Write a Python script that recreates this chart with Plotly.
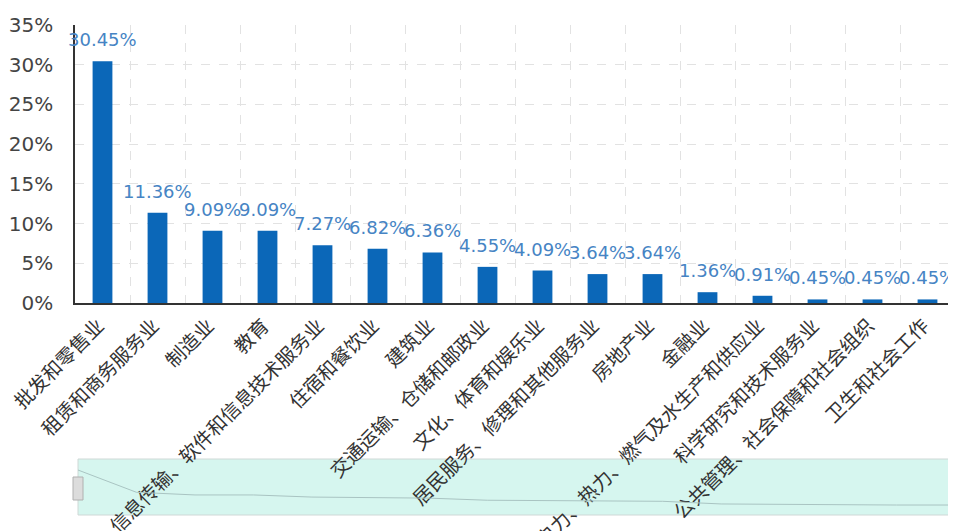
import plotly.graph_objects as go

categories = ["批发和零售业", "租赁和商务服务业", "制造业", "教育",
              "信息传输、软件和信息技术服务业", "住宿和餐饮业", "建筑业",
              "交通运输、仓储和邮政业", "文化、体育和娱乐业",
              "居民服务、修理和其他服务业", "房地产业", "金融业",
              "电力、热力、燃气及水生产和供应业", "科学研究和技术服务业",
              "公共管理、社会保障和社会组织", "卫生和社会工作"]
values = [30.45, 11.36, 9.09, 9.09, 7.27, 6.82, 6.36, 4.55, 4.09,
          3.64, 3.64, 1.36, 0.91, 0.45, 0.45, 0.45]
y_ticks = [0, 5, 10, 15, 20, 25, 30, 35]
y_tick_text = [f"{t}%" for t in y_ticks]

# page body has an 8px margin: work in page pixels, convert to figure pixels
OFF = 8
W, H = 956 - OFF, 531 - OFF
L, R = 75 - OFF, 955 - OFF
TOP, BOT = 25 - OFF, 303 - OFF
SL_L, SL_TOP, SL_BOT = 78 - OFF, 459 - OFF, 515 - OFF

CJK = "Noto Sans CJK SC, Microsoft YaHei, sans-serif"
NUM = "DejaVu Sans, Verdana, sans-serif"
LABEL_COLOR = "#4684c4"

fig = go.Figure()
fig.add_trace(go.Bar(
    x=categories, y=values,
    marker=dict(color="#0b67b8", line=dict(width=0)),
    width=0.36,
    xaxis="x", yaxis="y",
))

# data shadow in the slider
fig.add_trace(go.Scatter(
    x=list(range(len(values))), y=values,
    mode="lines", line=dict(color="#a9c4c2", width=1),
    xaxis="x2", yaxis="y2", hoverinfo="skip",
))

annotations = [
    dict(x=c, y=v, xref="x", yref="y", text=f"{v:.2f}%", showarrow=False,
         xanchor="center", yanchor="bottom", yshift=9,
         font=dict(size=18, color=LABEL_COLOR, family=NUM))
    for c, v in zip(categories, values)
]

def px(p):
    return p / W

def py(p):
    return 1 - p / H

fig.update_layout(
    width=W, height=H,
    margin=dict(l=0, r=0, t=0, b=0),
    paper_bgcolor="white", plot_bgcolor="rgba(0,0,0,0)",
    showlegend=False,
    font=dict(family=CJK, color="#333"),
    annotations=annotations,
    xaxis=dict(
        domain=[px(L), px(R)], anchor="y",
        type="category", range=[-0.5, len(categories) - 0.5],
        tickangle=-45, tickson="boundaries",
        showgrid=True, gridcolor="#e2e2e2", griddash="dash", gridwidth=1,
        showline=True, linecolor="#333", linewidth=1.5,
        ticks="", tickfont=dict(size=19.5, color="#333", family=CJK),
        ticklabelshift=-4, ticklabelstandoff=2,
        automargin=False,
    ),
    yaxis=dict(
        domain=[py(BOT), py(TOP)], anchor="x",
        range=[0, 35], tickvals=y_ticks, ticktext=y_tick_text,
        showgrid=True, gridcolor="#e2e2e2", griddash="dash",
        showline=True, linecolor="#333", linewidth=1.5, zeroline=False,
        ticks="", ticklabelstandoff=16,
        tickfont=dict(size=20, color="#444", family=NUM),
        automargin=False,
    ),
    xaxis2=dict(
        domain=[px(SL_L), px(R)], anchor="y2",
        range=[0, len(values) - 1], visible=False, fixedrange=True,
    ),
    yaxis2=dict(
        domain=[py(SL_BOT), py(SL_TOP)], anchor="x2",
        range=[-8.1, 39.9], visible=False, fixedrange=True,
    ),
    shapes=[
        dict(type="rect", xref="paper", yref="paper", layer="below",
             x0=px(SL_L), x1=px(R), y0=py(SL_BOT), y1=py(SL_TOP),
             fillcolor="#d6f6ef", line=dict(color="#cfd8d6", width=1)),
        dict(type="rect", xref="paper", yref="paper",
             x0=px(73 - OFF), x1=px(83 - OFF), y0=py(500 - OFF), y1=py(477 - OFF),
             fillcolor="#dcdcdc", line=dict(color="#b0b0b0", width=1)),
    ],
)

fig.write_html("out.html")
